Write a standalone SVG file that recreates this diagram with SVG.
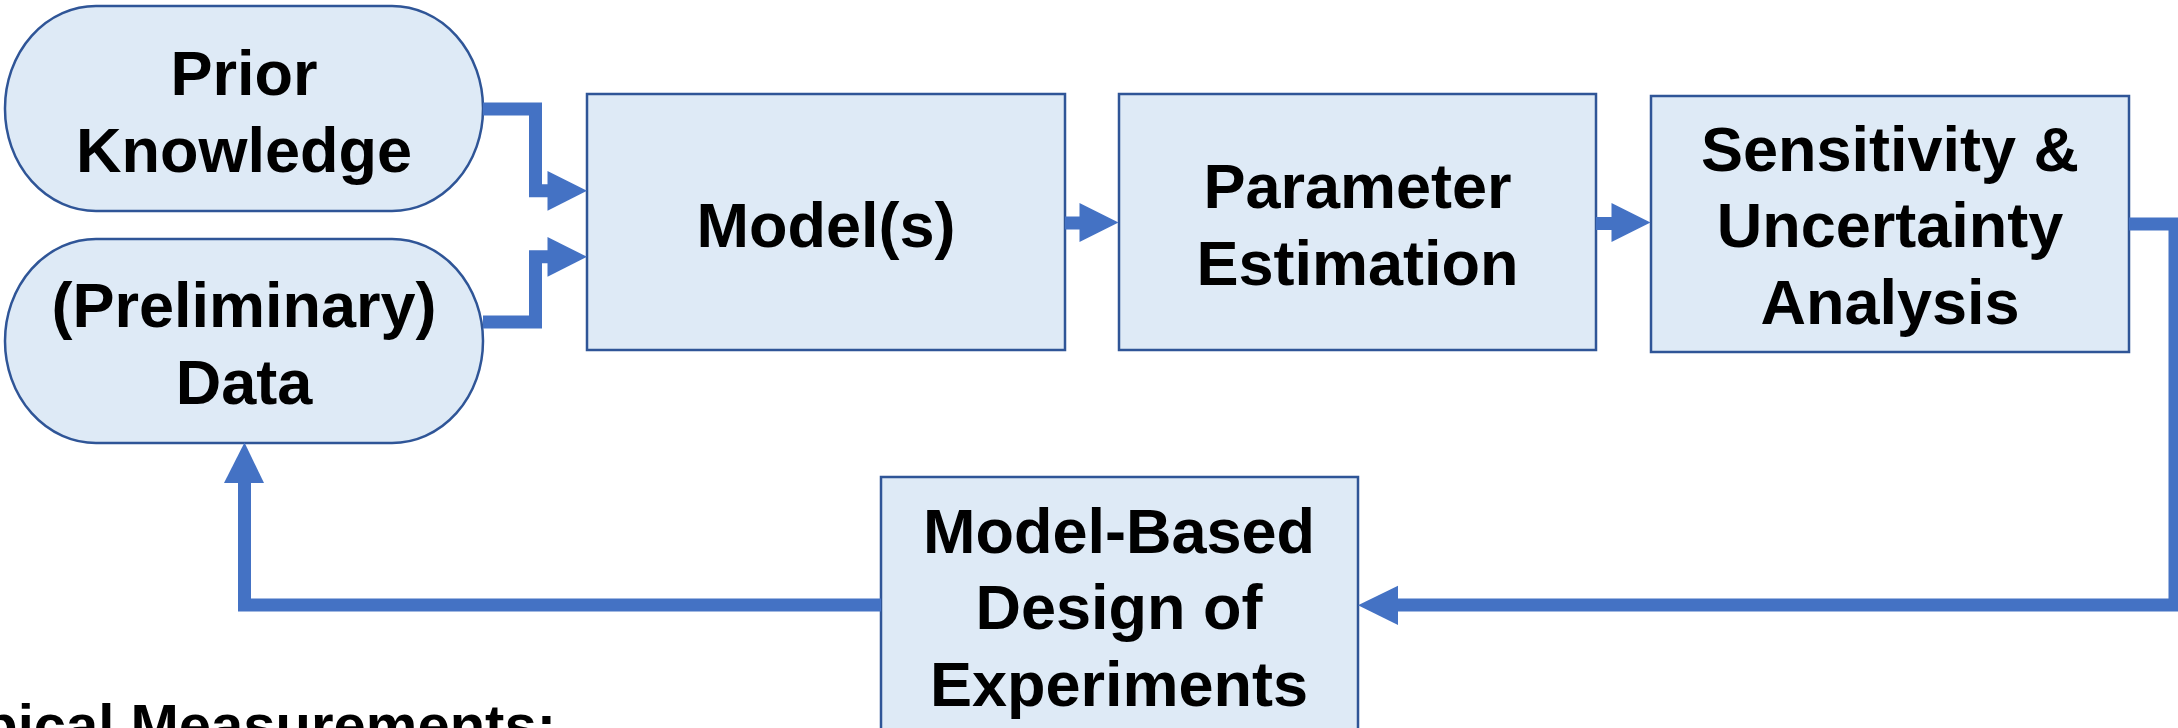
<svg xmlns="http://www.w3.org/2000/svg" width="2178" height="728" viewBox="0 0 2178 728">
<style>
.node{fill:#DEEAF6;stroke:#2F5597;stroke-width:2.5}
.lbl{font-family:"Liberation Sans",Arial,sans-serif;font-weight:bold;font-size:63px;fill:#000;text-anchor:middle}
.conn{fill:none;stroke:#4472C4;stroke-width:13;stroke-linejoin:miter}
.head{fill:#4472C4}
</style>
<rect width="2178" height="728" fill="#fff"/>
<g id="prior">
<rect class="node" x="5" y="6" width="478" height="205" rx="91" ry="102"/>
<text class="lbl" x="244" y="95">Prior</text>
<text class="lbl" x="244" y="172">Knowledge</text>
</g>
<g id="data">
<rect class="node" x="5" y="239" width="478" height="204" rx="91" ry="102"/>
<text class="lbl" x="244" y="327">(Preliminary)</text>
<text class="lbl" x="244" y="403.5">Data</text>
</g>
<g id="model">
<rect class="node" x="587" y="94" width="478" height="256"/>
<text class="lbl" x="826" y="246.7">Model(s)</text>
</g>
<g id="param">
<rect class="node" x="1119" y="94" width="477" height="256"/>
<text class="lbl" x="1357.5" y="207.7">Parameter</text>
<text class="lbl" x="1357.5" y="284.7">Estimation</text>
</g>
<g id="sens">
<rect class="node" x="1651" y="96" width="478" height="256"/>
<text class="lbl" x="1890" y="170.7">Sensitivity &amp;</text>
<text class="lbl" x="1890" y="247.3">Uncertainty</text>
<text class="lbl" x="1890" y="324">Analysis</text>
</g>
<g id="mbdoe">
<rect class="node" x="881" y="477" width="477" height="262"/>
<text class="lbl" x="1119" y="552.7">Model-Based</text>
<text class="lbl" x="1119" y="629.3">Design of</text>
<text class="lbl" x="1119" y="706">Experiments</text>
</g>
<g id="connectors">
<path class="conn" d="M483 109 H535.5 V190.7 H549"/>
<polygon class="head" points="547.5,171 587,190.7 547.5,210.7"/>
<path class="conn" d="M483 322 H535.5 V256.8 H549"/>
<polygon class="head" points="547.5,237 587,256.8 547.5,276.7"/>
<path class="conn" d="M1065 223 H1081"/>
<polygon class="head" points="1079.5,203 1118.5,222.5 1079.5,242"/>
<path class="conn" d="M1596 223.5 H1613"/>
<polygon class="head" points="1611.5,203 1650.5,222.5 1611.5,242"/>
<path class="conn" d="M2129 224 H2175 V605 H1396"/>
<polygon class="head" points="1398,585.7 1358,605.3 1398,625"/>
<path class="conn" d="M881 605 H244.5 V481"/>
<polygon class="head" points="224,483 244.5,442.5 264,483"/>
</g>
<text x="556" y="745" font-family="'Liberation Sans',Arial,sans-serif" font-weight="bold" font-size="58" text-anchor="end" fill="#000">Typical Measurements:</text>
</svg>
